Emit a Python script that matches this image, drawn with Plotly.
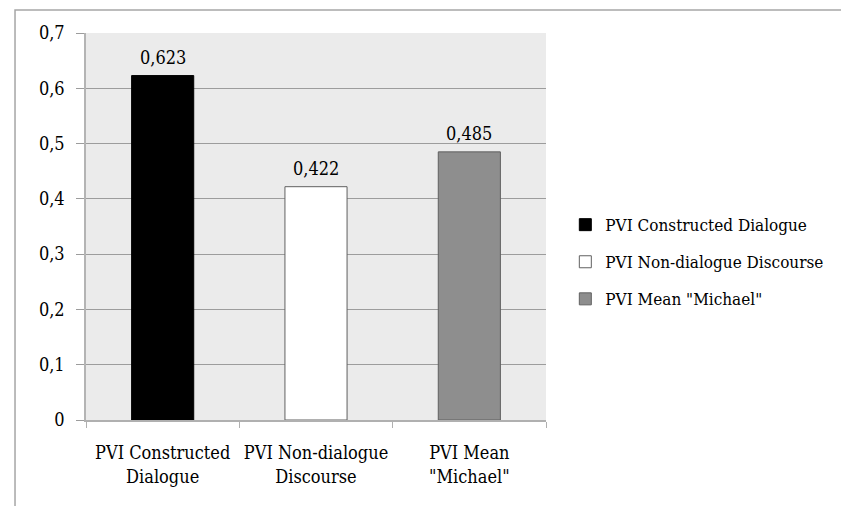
import plotly.graph_objects as go

# PVI values per category
categories = ["PVI Constructed Dialogue", "PVI Non-dialogue Discourse", 'PVI Mean "Michael"']
axis_labels = ["PVI Constructed<br>Dialogue", "PVI Non-dialogue<br>Discourse", 'PVI Mean<br>"Michael"']
values = [0.623, 0.422, 0.485]
fills = ["#000000", "#ffffff", "#8e8e8e"]
outlines = ["#000000", "#606060", "#606060"]
y_ticks = [0, 0.1, 0.2, 0.3, 0.4, 0.5, 0.6, 0.7]

FONT = "DejaVu Serif Condensed, DejaVu Serif"
FS = 18

fig = go.Figure()
for i, name in enumerate(categories):
    fig.add_trace(go.Bar(
        x=[axis_labels[i]], y=[values[i]], name=name,
        marker=dict(color=fills[i], line=dict(color=outlines[i], width=1)),
        width=0.405, legendgroup=str(i),
    ))
    # value label above each bar
    fig.add_annotation(x=axis_labels[i], y=values[i], text=f"{values[i]:.3f}".replace(".", ","),
                       showarrow=False, yanchor="bottom", yshift=6,
                       font=dict(family=FONT, size=FS, color="#000000"))

# outer chart frame
fig.add_shape(type="rect", xref="paper", yref="paper",
              x0=-0.1543, x1=1.66, y0=-0.5, y1=1.0594,
              line=dict(color="#a6a6a6", width=1.5), fillcolor="rgba(0,0,0,0)", layer="below")

fig.update_layout(
    width=841, height=506,
    margin=dict(l=86, r=295, t=33, b=86, autoexpand=False),
    paper_bgcolor="#ffffff", plot_bgcolor="#ebebeb",
    separators=", ",
    font=dict(family=FONT, size=FS, color="#000000"),
    showlegend=True,
    legend=dict(x=1.042, y=0.408, xanchor="left", yanchor="middle",
                font=dict(family=FONT, size=17), tracegroupgap=12,
                traceorder="grouped", itemwidth=30, bgcolor="rgba(0,0,0,0)"),
    barmode="group",
)
fig.update_xaxes(showgrid=False, showline=True, linecolor="#b0b0b0", linewidth=1.5,
                 ticks="outside", tickson="boundaries", ticklen=6, tickcolor="#b0b0b0",
                 tickangle=0, ticklabelstandoff=16,
                 tickfont=dict(family=FONT, size=FS))
fig.update_yaxes(range=[0, 0.7], tickvals=y_ticks, showgrid=True, gridcolor="#9c9c9c", gridwidth=1,
                 showline=True, linecolor="#b4b4b4", linewidth=1.5, zeroline=False,
                 ticks="outside", ticklen=8, tickcolor="#9c9c9c",
                 ticklabelstandoff=8,
                 tickfont=dict(family=FONT, size=FS))

fig.write_html("out.html")
